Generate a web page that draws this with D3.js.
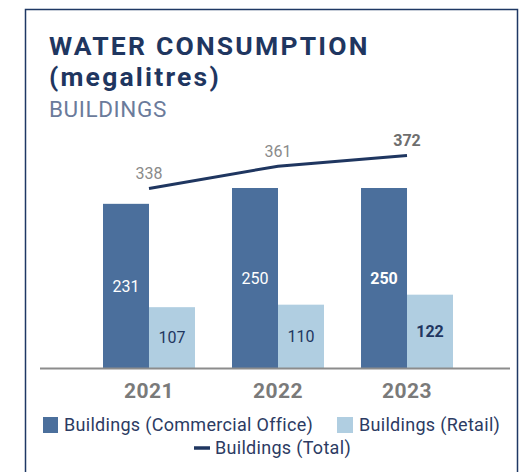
<!DOCTYPE html>
<html>
<head>
<meta charset="utf-8">
<script src="https://cdn.jsdelivr.net/npm/d3@7"></script>
<style>
  html, body { margin: 0; padding: 0; background: #fff; }
  svg { display: block; font-family: Roboto, "Noto Sans", sans-serif; }
</style>
</head>
<body>
<svg id="chart" width="526" height="472"></svg>
<script>
// Water consumption (megalitres) for buildings, by year
const years = ["2021", "2022", "2023"];
const officeValues = [231, 250, 250];
const retailValues = [107, 110, 122];
const totalValues = [338, 361, 372];
const highlightYear = "2023";

const titleLines = ["WATER CONSUMPTION", "(megalitres)"];
const subtitle = "BUILDINGS";
const seriesNames = ["Buildings (Commercial Office)", "Buildings (Retail)", "Buildings (Total)"];

const colors = {
  office: "#4b6f9c",
  retail: "#b0cee1",
  total: "#1f3660",
  frame: "#1f3864",
  title: "#1f3660",
  subtitle: "#6b7b9b",
  axis: "#8c8c8c",
  year: "#7a7a7a",
  totalLabel: "#8a8a8a",
  totalLabelStrong: "#6e6e6e",
  legendText: "#2c3b63"
};

const svg = d3.select("#chart");

// Panel frame (open at the bottom)
svg.append("path")
  .attr("d", "M25.5,472 V9.5 H517.5 V472")
  .attr("fill", "none")
  .attr("stroke", colors.frame)
  .attr("stroke-width", 1.5);

// Two-line title
svg.append("g").selectAll("text")
  .data(titleLines).join("text")
  .attr("x", 49)
  .attr("y", (d, i) => 54.5 + i * 31.5)
  .attr("font-size", 26.5).attr("font-weight", 700)
  .attr("letter-spacing", 2.2)
  .attr("fill", colors.title)
  .text(d => d);

svg.append("text")
  .attr("x", 49).attr("y", 117)
  .attr("font-size", 22.5).attr("font-weight", 400)
  .attr("letter-spacing", 0.6)
  .attr("fill", colors.subtitle)
  .text(subtitle);

// Scales
const baseY = 368;
const x = d3.scaleBand().domain(years).range([103, 453]).paddingInner(0.287).paddingOuter(0);
const xSub = d3.scaleBand().domain(["office", "retail"]).range([0, x.bandwidth()]);
const yBar = d3.scaleLinear().domain([34, 250]).range([baseY, 188]);
const yLine = d3.scaleLinear().domain([338, 372]).range([188.5, 155.5]);

const rows = years.map((yr, i) => ({
  year: yr, office: officeValues[i], retail: retailValues[i], total: totalValues[i]
}));

// Bars
const groups = svg.append("g").selectAll("g")
  .data(rows).join("g")
  .attr("transform", d => `translate(${x(d.year)},0)`);

groups.append("rect")
  .attr("x", xSub("office")).attr("width", xSub.bandwidth())
  .attr("y", d => yBar(d.office)).attr("height", d => baseY - yBar(d.office))
  .attr("fill", colors.office);
groups.append("rect")
  .attr("x", xSub("retail")).attr("width", xSub.bandwidth())
  .attr("y", d => yBar(d.retail)).attr("height", d => baseY - yBar(d.retail))
  .attr("fill", colors.retail);

// Bar value labels
groups.append("text")
  .attr("x", xSub("office") + xSub.bandwidth() / 2)
  .attr("y", d => (yBar(d.office) + baseY) / 2)
  .attr("dy", "0.36em").attr("text-anchor", "middle")
  .attr("font-size", 16)
  .attr("font-weight", d => d.year === highlightYear ? 700 : 400)
  .attr("fill", "#ffffff")
  .text(d => d.office);
groups.append("text")
  .attr("x", xSub("retail") + xSub.bandwidth() / 2)
  .attr("y", d => (yBar(d.retail) + baseY) / 2)
  .attr("dy", "0.36em").attr("text-anchor", "middle")
  .attr("font-size", 16)
  .attr("font-weight", d => d.year === highlightYear ? 700 : 400)
  .attr("fill", colors.total)
  .text(d => d.retail);

// Baseline
svg.append("line")
  .attr("x1", 40).attr("x2", 510)
  .attr("y1", baseY + 0.5).attr("y2", baseY + 0.5)
  .attr("stroke", colors.axis).attr("stroke-width", 2);

// Year axis
const xAxis = svg.append("g")
  .attr("transform", `translate(0,${baseY})`)
  .call(d3.axisBottom(x).tickSize(0).tickPadding(0));
xAxis.select(".domain").remove();
xAxis.selectAll("text")
  .attr("y", 30).attr("dy", 0)
  .attr("font-family", "Roboto, sans-serif")
  .attr("font-size", 21).attr("font-weight", 700)
  .attr("letter-spacing", 0.5)
  .attr("fill", colors.year);

// Total line
const lineGen = d3.line()
  .x(d => x(d.year) + x.bandwidth() / 2)
  .y(d => yLine(d.total));
svg.append("path")
  .datum(rows)
  .attr("d", lineGen)
  .attr("fill", "none")
  .attr("stroke", colors.total)
  .attr("stroke-width", 3);

svg.append("g").selectAll("text")
  .data(rows).join("text")
  .attr("x", d => x(d.year) + x.bandwidth() / 2)
  .attr("y", d => yLine(d.total) - 15)
  .attr("dy", "0.36em").attr("text-anchor", "middle")
  .attr("font-size", 16)
  .attr("font-weight", d => d.year === highlightYear ? 700 : 400)
  .attr("fill", d => d.year === highlightYear ? colors.totalLabelStrong : colors.totalLabel)
  .text(d => d.total);

// Legend
const legend = svg.append("g").attr("font-size", 18).attr("letter-spacing", 0.3).attr("fill", colors.legendText);
legend.append("rect").attr("x", 43).attr("y", 417).attr("width", 15).attr("height", 16).attr("fill", colors.office);
legend.append("text").attr("x", 64).attr("y", 425).attr("dy", "0.36em").text(seriesNames[0]);
legend.append("rect").attr("x", 337).attr("y", 417).attr("width", 16).attr("height", 16).attr("fill", colors.retail);
legend.append("text").attr("x", 359).attr("y", 425).attr("dy", "0.36em").text(seriesNames[1]);
legend.append("line").attr("x1", 194).attr("x2", 210).attr("y1", 448).attr("y2", 448)
  .attr("stroke", colors.total).attr("stroke-width", 3.5);
legend.append("text").attr("x", 215).attr("y", 448).attr("dy", "0.36em").text(seriesNames[2]);
</script>
</body>
</html>
